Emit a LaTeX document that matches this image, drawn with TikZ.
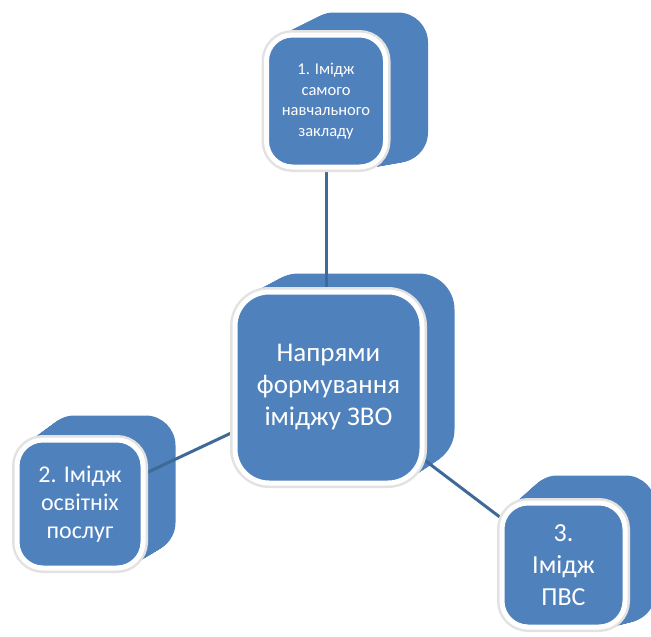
\documentclass[tikz,border=0pt]{standalone}
\usepackage{fontspec}
\setmainfont{Carlito}
\usepackage{tikz}
\usetikzlibrary{positioning,calc}
\definecolor{zvoBlue}{HTML}{4F81BD}
\definecolor{zvoLine}{HTML}{3F6A98}
\definecolor{zvoGlow}{HTML}{E2E2E2}
\pgfdeclarelayer{solid}
\pgfdeclarelayer{links}
\pgfsetlayers{solid,links,main}

\begin{document}
\begin{tikzpicture}[
  x=1pt,y=-1pt,
  face/.style={rectangle,rounded corners=26pt,fill=zvoBlue,draw=white,line width=5pt,
    text=white,align=center,inner sep=2pt,preaction={draw=zvoGlow,line width=10pt}},
  link/.style={draw=zvoLine,line width=3pt}
]
  \useasboundingbox (0,0) rectangle (651,637);
  % front faces
  \node[face,minimum width=119pt,minimum height=132pt,font=\fontsize{16.5}{20.5}\selectfont]
    (img1) at (326,101) {1. Імідж\\самого\\навчального\\закладу};
  \node[face,minimum width=187pt,minimum height=191pt,rounded corners=34pt,
    font=\fontsize{27}{32}\selectfont]
    (centre) at (328.5,387.5) {Напрями\\формування\\іміджу ЗВО};
  \node[face,minimum width=126pt,minimum height=128pt,font=\fontsize{24}{28}\selectfont]
    (img2) at (80,504) {2. Імідж\\освітніх\\послуг};
  \node[face,minimum width=123pt,minimum height=124pt,font=\fontsize{26}{32}\selectfont]
    (img3) at (563.5,565) {3.\\Імідж\\ПВС};
  % solid backs
  \begin{pgfonlayer}{solid}
    \foreach \n/\dx/\dt/\db/\r in {img1/40/-20/-7/30,centre/30/-16/-20/36,img2/30/-22/-18/30,img3/28/-25/-7/30}{
      \foreach \k in {0,...,30}{
        \fill[zvoBlue,rounded corners=\r pt] ($(\n.south west)+(\k*\dx/30,\k*\db/30)$)
          rectangle ($(\n.north east)+(\k*\dx/30,\k*\dt/30)$);
      }
    }
  \end{pgfonlayer}
  % links
  \begin{pgfonlayer}{links}
    \draw[link] (img1) -- (img1 |- centre);
    \draw[link] (img2) -- (centre);
    \draw[link] (centre) -- (img3);
  \end{pgfonlayer}
\end{tikzpicture}
\end{document}
